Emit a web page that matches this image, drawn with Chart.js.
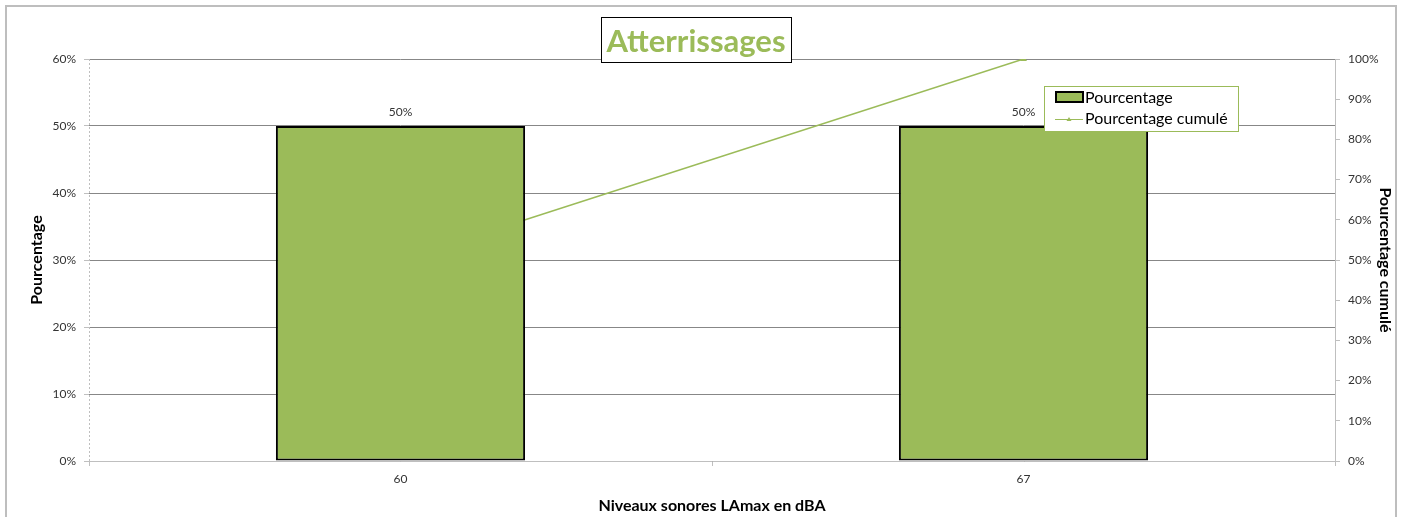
<!DOCTYPE html>
<html lang="fr">
<head>
<meta charset="utf-8">
<title>Atterrissages</title>
<script src="https://cdn.jsdelivr.net/npm/chart.js@4.4.1/dist/chart.umd.min.js"></script>
<style>
  html, body { margin:0; padding:0; background:#fff; }
  #wrap { width:1403px; height:517px; }
</style>
</head>
<body>
<div id="wrap"><canvas id="chart" width="1403" height="517"></canvas></div>
<script>
// ============ Data ============
const categories  = ["60", "67"];
const pourcentage = [50, 50];          // %
const cumule      = [50, 100];         // %
const leftTicks   = { min:0, max:60, step:10 };
const rightTicks  = { min:0, max:100, step:10 };

const TITLE    = "Atterrissages";
const Y_TITLE  = "Pourcentage";
const Y1_TITLE = "Pourcentage cumulé";
const X_TITLE  = "Niveaux sonores LAmax en dBA";

// ============ Style ============
const GREEN = "#9BBB59";
const FONT  = "Lato, 'Open Sans', 'DejaVu Sans', sans-serif";
const TXT   = "#333333";
const GRID  = "#878787";
const AXIS  = "#BFBFBF";

// ============ Plugins ============
// frame + title box + axis titles + legend + value labels
const decor = {
  id: "decor",
  beforeDraw(chart){
    const c = chart.ctx;
    c.save();
    c.fillStyle = "#fff";
    c.fillRect(0, 0, chart.width, chart.height);
    c.strokeStyle = "#BEBEBE";
    c.lineWidth = 2;
    c.beginPath();
    c.moveTo(6, chart.height + 2); c.lineTo(6, 6); c.lineTo(1396, 6); c.lineTo(1396, chart.height + 2);
    c.stroke();
    c.restore();
  },
  beforeDatasetsDraw(chart){
    // dotted left axis line
    const c = chart.ctx, a = chart.chartArea;
    c.save();
    c.strokeStyle = AXIS;
    c.lineWidth = 1;
    c.setLineDash([2, 2]);
    c.beginPath(); c.moveTo(a.left + 0.5, a.top); c.lineTo(a.left + 0.5, a.bottom); c.stroke();
    c.restore();
  },
  afterDraw(chart){
    const c = chart.ctx;
    const x = chart.scales.x, y = chart.scales.y;
    c.save();

    // value labels above bars
    c.font = `12px ${FONT}`;
    c.fillStyle = TXT;
    c.textAlign = "center";
    c.textBaseline = "alphabetic";
    pourcentage.forEach((v, i) => {
      c.fillText(v + "%", x.getPixelForValue(i), y.getPixelForValue(v) - 10);
    });

    // title box
    c.fillStyle = "#fff";
    c.fillRect(601, 17, 190, 45);
    c.strokeStyle = "#000";
    c.lineWidth = 1;
    c.strokeRect(601.5, 17.5, 190, 45);
    c.fillStyle = GREEN;
    c.font = `bold 31px ${FONT}`;
    c.textAlign = "center";
    c.fillText(TITLE, 696, 52);

    // axis titles
    c.fillStyle = "#000";
    c.font = `bold 16px ${FONT}`;
    c.textBaseline = "middle";
    c.save(); c.translate(37, 260); c.rotate(-Math.PI/2); c.fillText(Y_TITLE, 0, 0); c.restore();
    c.save(); c.translate(1385, 260); c.rotate(Math.PI/2); c.fillText(Y1_TITLE, 0, 0); c.restore();
    c.textBaseline = "alphabetic";
    c.fillText(X_TITLE, 712, 511);

    // legend
    c.fillStyle = "#fff";
    c.fillRect(1044, 86, 194, 45);
    c.strokeStyle = GREEN;
    c.strokeRect(1044.5, 86.5, 194, 45);
    c.fillStyle = GREEN;
    c.fillRect(1056, 92, 27, 10);
    c.strokeStyle = "#000";
    c.lineWidth = 2;
    c.strokeRect(1056, 92, 27, 10);
    c.strokeStyle = GREEN;
    c.lineWidth = 1;
    c.beginPath(); c.moveTo(1055, 119.5); c.lineTo(1083, 119.5); c.stroke();
    c.fillStyle = GREEN;
    c.beginPath(); c.moveTo(1069, 117); c.lineTo(1071.5, 121); c.lineTo(1066.5, 121); c.closePath(); c.fill();
    c.fillStyle = "#000";
    c.font = `16px ${FONT}`;
    c.textAlign = "left";
    c.textBaseline = "middle";
    c.fillText(chart.data.datasets[0].label, 1085, 98);
    c.fillText(chart.data.datasets[1].label, 1085, 119);

    c.restore();
  }
};

// ============ Chart ============
const pct = (v) => v + "%";

new Chart(document.getElementById("chart"), {
  type: "bar",
  data: {
    labels: categories,
    datasets: [
      {
        label: "Pourcentage",
        data: pourcentage,
        backgroundColor: GREEN,
        borderColor: "#000",
        borderWidth: 2,
        borderSkipped: false,
        barPercentage: 0.4,
        categoryPercentage: 1,
        yAxisID: "y",
        order: 0
      },
      {
        type: "line",
        label: "Pourcentage cumulé",
        data: cumule,
        borderColor: GREEN,
        backgroundColor: GREEN,
        borderWidth: 1.5,
        pointStyle: "triangle",
        pointRadius: 2.5,
        tension: 0,
        yAxisID: "y1",
        order: 1
      }
    ]
  },
  options: {
    responsive: false,
    animation: false,
    events: [],
    layout: { padding: { top: 59, left: 0, right: 0, bottom: 0 } },
    plugins: { legend: { display: false }, title: { display: false }, tooltip: { enabled: false } },
    scales: {
      x: {
        afterFit: (s) => { s.height = 56; },
        grid: { offset: true, drawOnChartArea: false, drawTicks: true, tickLength: 5, color: AXIS },
        border: { color: AXIS, width: 1 },
        ticks: { color: TXT, font: { family: FONT, size: 12 }, padding: 6 }
      },
      y: {
        position: "left",
        min: leftTicks.min, max: leftTicks.max,
        afterFit: (s) => { s.width = 89; },
        grid: { color: GRID, tickLength: 5, tickColor: AXIS },
        border: { display: false },
        ticks: { stepSize: leftTicks.step, callback: pct, color: TXT, font: { family: FONT, size: 12 }, padding: 8 }
      },
      y1: {
        position: "right",
        min: rightTicks.min, max: rightTicks.max,
        afterFit: (s) => { s.width = 68; },
        grid: { drawOnChartArea: false, tickLength: 5, color: AXIS },
        border: { color: AXIS },
        ticks: { stepSize: rightTicks.step, callback: pct, color: TXT, font: { family: FONT, size: 12 }, padding: 8 }
      }
    }
  },
  plugins: [decor]
});
</script>
</body>
</html>
